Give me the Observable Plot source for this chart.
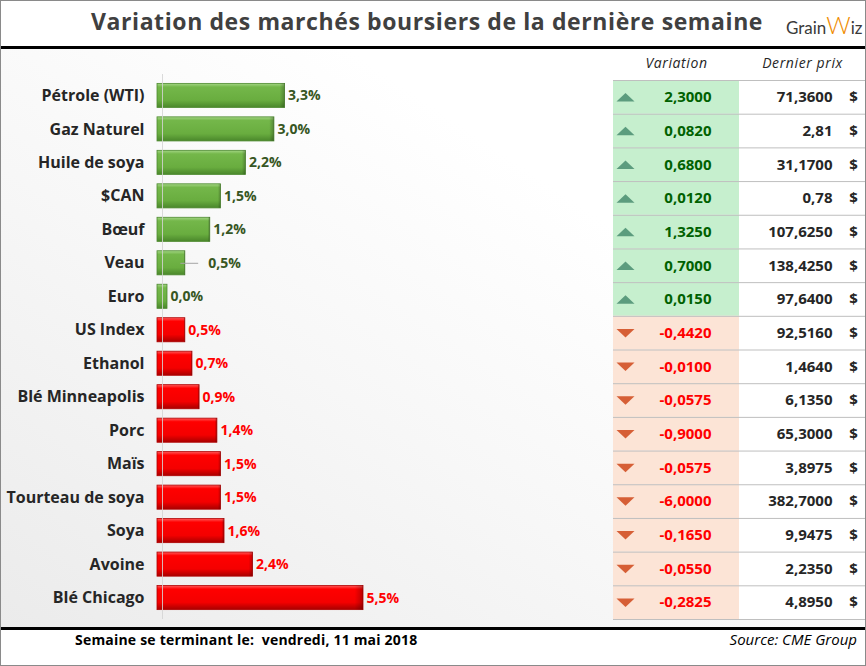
<!DOCTYPE html>
<html><head><meta charset="utf-8">
<script src="https://cdn.jsdelivr.net/npm/d3@7"></script>
<script src="https://cdn.jsdelivr.net/npm/@observablehq/plot@0.6"></script>
<style>
body{margin:0;background:#fff;}
#wrap{position:relative;width:866px;height:666px;overflow:hidden;font-family:"Open Sans",Lato,sans-serif;background:#fff;}
#frame{position:absolute;left:0;top:0;width:866px;height:666px;box-sizing:border-box;border:1px solid #8a8a8a;pointer-events:none;z-index:10}
#bg{position:absolute;left:0;top:48px;width:866px;height:580px;background:linear-gradient(to top right,#ebebeb 0%,#f7f7f7 40%,#ffffff 70%);}
#title{position:absolute;left:0;width:854px;top:5px;text-align:center;font-weight:bold;font-size:23px;letter-spacing:0.6px;color:#404040;}
#logo{position:absolute;left:786px;top:10px;font-family:Lato,sans-serif;font-size:17px;color:#3a3a3a;white-space:nowrap;}
#logo .w{color:#f08c00;font-size:24px;font-weight:300;}
.hline{position:absolute;left:0;width:866px;height:3px;background:#000;}
#left{position:absolute;left:0;top:48px;}
#right{position:absolute;left:600px;top:48px;}
#foot{position:absolute;left:75px;top:630px;font-weight:bold;font-size:14px;letter-spacing:0.2px;color:#000;}
#src{position:absolute;right:9px;top:629px;font-style:italic;font-size:15px;color:#000;}
</style>
</head><body>
<div id="wrap">
  <div id="bg"></div>
  <div id="title">Variation des marchés boursiers de la dernière semaine</div>
  <div id="logo">Grain<span class="w">W</span>iz</div>
  <div class="hline" style="top:46px"></div>
  <div id="left"></div>
  <div id="right"></div>
  <div class="hline" style="top:627px"></div>
  <div id="foot">Semaine se terminant le:&nbsp; vendredi, 11 mai 2018</div>
  <div id="src">Source: CME Group</div>
  <div id="frame"></div>
</div>
<script>
const names = ["Pétrole (WTI)", "Gaz Naturel", "Huile de soya", "$CAN", "Bœuf", "Veau", "Euro", "US Index", "Ethanol", "Blé Minneapolis", "Porc", "Maïs", "Tourteau de soya", "Soya", "Avoine", "Blé Chicago"];
const pct = [3.3, 3.0, 2.2, 1.5, 1.2, 0.5, 0.0, -0.5, -0.7, -0.9, -1.4, -1.5, -1.5, -1.6, -2.4, -5.5];
const change = [2.3, 0.082, 0.68, 0.012, 1.325, 0.7, 0.015, -0.442, -0.01, -0.0575, -0.9, -0.0575, -6.0, -0.165, -0.055, -0.2825];
const priceLabels = ["71,3600", "2,81", "31,1700", "0,78", "107,6250", "138,4250", "97,6400", "92,5160", "1,4640", "6,1350", "65,3000", "3,8975", "382,7000", "9,9475", "2,2350", "4,8950"];
const columns = ["Variation", "Dernier prix"];

const rows = names.map((name, i) => ({name, pct: pct[i], change: change[i], price: priceLabels[i], up: change[i] >= 0}));
const upRows = rows.filter(d => d.up), downRows = rows.filter(d => !d.up);
const fmtPct = v => Math.abs(v).toFixed(1).replace(".", ",") + "%";
const fmtChg = v => v.toFixed(4).replace(".", ",");
const H = 580;
const font = "'Open Sans', Lato, sans-serif";

const left = Plot.plot({
  width: 600, height: H,
  marginLeft: 167, marginRight: 237, marginTop: 26, marginBottom: 9,
  x: {domain: [0, d3.max(pct, Math.abs)], axis: null},
  y: {domain: names, padding: 0.28, round: false, label: null},
  style: {background: "transparent", fontFamily: font, overflow: "visible"},
  marks: [
    Plot.axisY({tickSize: 0, tickPadding: 23, fontSize: 16, fontWeight: "bold", color: "#262626", label: null}),
    Plot.barX(upRows, {x: d => Math.abs(d.pct), y: "name", fill: "url(#gGreen)", stroke: "#4e8a30", strokeWidth: 0.8, insetLeft: -10}),
    Plot.barX(downRows, {x: d => Math.abs(d.pct), y: "name", fill: "url(#gRed)", stroke: "#b00000", strokeWidth: 0.8, insetLeft: -10}),
    Plot.barX(rows, {x: d => Math.abs(d.pct), y: "name", fill: "url(#gEdge)", insetLeft: -10}),
    Plot.ruleX([0], {dx: -5, stroke: "#d4d4d4", strokeOpacity: 0.85}),
    Plot.ruleY(rows.filter(d => d.name === "Veau"), {y: "name", x1: d => Math.abs(d.pct) * 0.75, x2: d => Math.abs(d.pct) * 1.75, stroke: "#a6a6a6"}),
    Plot.text(upRows.filter(d => d.name !== "Veau"), {x: d => Math.abs(d.pct), y: "name", text: d => fmtPct(d.pct), dx: 3, textAnchor: "start", fill: "#375623", fontWeight: "bold", fontSize: 14}),
    Plot.text(rows.filter(d => d.name === "Veau"), {x: d => Math.abs(d.pct), y: "name", text: d => fmtPct(d.pct), dx: 23, textAnchor: "start", fill: "#375623", fontWeight: "bold", fontSize: 14}),
    Plot.text(downRows, {x: d => Math.abs(d.pct), y: "name", text: d => fmtPct(d.pct), dx: 3, textAnchor: "start", fill: "#ff0000", fontWeight: "bold", fontSize: 14})
  ]
});
left.insertAdjacentHTML("afterbegin", `<defs>
<linearGradient id="gGreen" x1="0" y1="0" x2="0" y2="1">
<stop offset="0" stop-color="#a4d685"/><stop offset="0.15" stop-color="#74b74a"/><stop offset="0.7" stop-color="#69ad3f"/><stop offset="1" stop-color="#4a872b"/></linearGradient>
<linearGradient id="gRed" x1="0" y1="0" x2="0" y2="1">
<stop offset="0" stop-color="#ff5a5a"/><stop offset="0.15" stop-color="#ff0000"/><stop offset="0.7" stop-color="#f40000"/><stop offset="1" stop-color="#a80000"/></linearGradient>
<linearGradient id="gEdge" x1="0" y1="0" x2="1" y2="0">
<stop offset="0" stop-color="#000" stop-opacity="0"/><stop offset="0.96" stop-color="#000" stop-opacity="0"/><stop offset="1" stop-color="#000" stop-opacity="0.25"/></linearGradient>
</defs>`);
document.getElementById("left").appendChild(left);

const tTop = 32, tBottom = 9;
const tStep = (H - tTop - tBottom) / names.length;
const triUp = {draw(ctx, size) { const r = Math.sqrt(size / Math.PI); ctx.moveTo(-1.8 * r, 0.85 * r); ctx.lineTo(1.8 * r, 0.85 * r); ctx.lineTo(0, -0.85 * r); ctx.closePath(); }};
const triDown = {draw(ctx, size) { const r = Math.sqrt(size / Math.PI); ctx.moveTo(-1.8 * r, -0.85 * r); ctx.lineTo(1.8 * r, -0.85 * r); ctx.lineTo(0, 0.85 * r); ctx.closePath(); }};

const right = Plot.plot({
  width: 266, height: H,
  marginLeft: 13, marginRight: 1, marginTop: tTop, marginBottom: tBottom,
  x: {type: "band", domain: columns, padding: 0, round: false, label: null},
  y: {domain: names, padding: 0, round: false, axis: null},
  style: {background: "transparent", fontFamily: font, overflow: "visible"},
  marks: [
    Plot.axisX({anchor: "top", tickSize: 0, tickPadding: 13, fontSize: 14, fontStyle: "italic", color: "#262626", label: null}),
    Plot.cell(upRows, {x: () => columns[0], y: "name", fill: "#c6efce"}),
    Plot.cell(downRows, {x: () => columns[0], y: "name", fill: "#fce4d6"}),
    Plot.cell(rows, {x: () => columns[1], y: "name", fill: "#ffffff"}),
    Plot.tickY(rows, {y: "name", dy: tStep / 2, stroke: "#bfbfbf"}),
    Plot.tickY(rows.slice(0, 1), {y: "name", dy: -tStep / 2, stroke: "#bfbfbf"}),
    Plot.dot(upRows, {x: () => columns[0], y: "name", dx: -51, r: 5, symbol: triUp, fill: "#5c9c7e", stroke: "none"}),
    Plot.dot(downRows, {x: () => columns[0], y: "name", dx: -51, r: 5, symbol: triDown, fill: "#d65f36", stroke: "none"}),
    Plot.text(upRows, {x: () => columns[0], y: "name", text: d => fmtChg(d.change), dx: 35, textAnchor: "end", fill: "#006100", fontWeight: "bold", fontSize: 15}),
    Plot.text(downRows, {x: () => columns[0], y: "name", text: d => fmtChg(d.change), dx: 35, textAnchor: "end", fill: "#ff0000", fontWeight: "bold", fontSize: 15}),
    Plot.text(rows, {x: () => columns[1], y: "name", text: "price", dx: 30, textAnchor: "end", fill: "#262626", fontWeight: "bold", fontSize: 15}),
    Plot.text(rows, {x: () => columns[1], y: "name", text: () => "$", dx: 51, textAnchor: "middle", fill: "#262626", fontWeight: "bold", fontSize: 15})
  ]
});
right.querySelectorAll("g[aria-label='x-axis tick label'] text").forEach(t => t.style.letterSpacing = "0.6px");
document.getElementById("right").appendChild(right);
</script>
</body></html>
